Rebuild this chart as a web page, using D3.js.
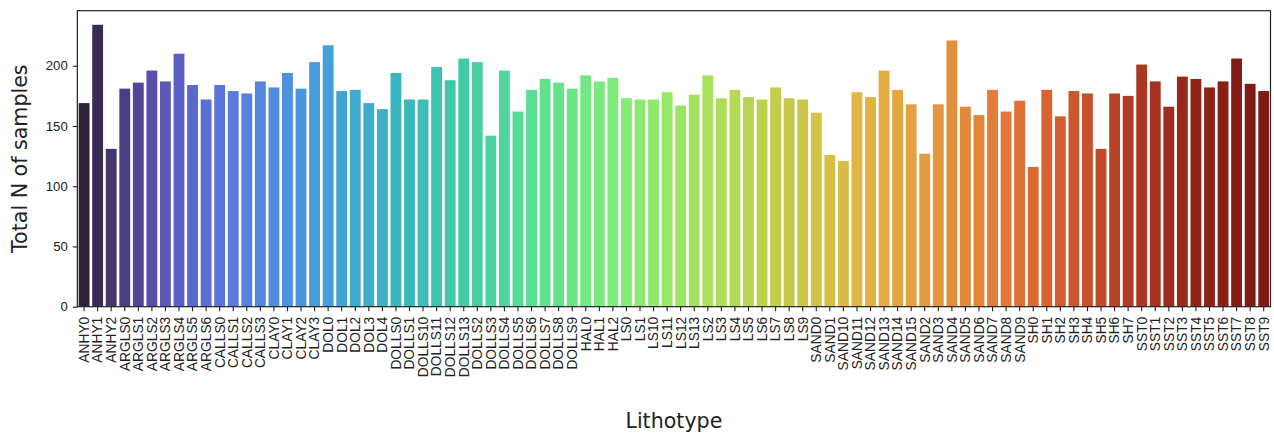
<!DOCTYPE html>
<html>
<head>
<meta charset="utf-8">
<script src="https://cdn.jsdelivr.net/npm/d3@7"></script>
<style>
  body { margin: 0; background: #fff; }
  svg { display: block; font-family: "DejaVu Sans", sans-serif; }
</style>
</head>
<body>
<script>
// Lithotype categories (in plot order)
const lithotypes = [
  "ANHY0","ANHY1","ANHY2",
  "ARGLS0","ARGLS1","ARGLS2","ARGLS3","ARGLS4","ARGLS5","ARGLS6",
  "CALLS0","CALLS1","CALLS2","CALLS3",
  "CLAY0","CLAY1","CLAY2","CLAY3",
  "DOL0","DOL1","DOL2","DOL3","DOL4",
  "DOLLS0","DOLLS1","DOLLS10","DOLLS11","DOLLS12","DOLLS13","DOLLS2","DOLLS3","DOLLS4","DOLLS5","DOLLS6","DOLLS7","DOLLS8","DOLLS9",
  "HAL0","HAL1","HAL2",
  "LS0","LS1","LS10","LS11","LS12","LS13","LS2","LS3","LS4","LS5","LS6","LS7","LS8","LS9",
  "SAND0","SAND1","SAND10","SAND11","SAND12","SAND13","SAND14","SAND15","SAND2","SAND3","SAND4","SAND5","SAND6","SAND7","SAND8","SAND9",
  "SH0","SH1","SH2","SH3","SH4","SH5","SH6","SH7",
  "SST0","SST1","SST2","SST3","SST4","SST5","SST6","SST7","SST8","SST9"
];

// Total N of samples per lithotype
const counts = [
  169, 234, 131,
  181, 186, 196, 187, 210, 184, 172,
  184, 179, 177, 187,
  182, 194, 181, 203,
  217, 179, 180, 169, 164,
  194, 172, 172, 199, 188, 206, 203, 142, 196, 162, 180, 189, 186, 181,
  192, 187, 190,
  173, 172, 172, 178, 167, 176, 192, 173, 180, 174, 172, 182, 173, 172,
  161, 126, 121, 178, 174, 196, 180, 168, 127, 168, 221, 166, 159, 180, 162, 171,
  116, 180, 158, 179, 177, 131, 177, 175,
  201, 187, 166, 191, 189, 182, 187, 206, 185, 179
];

const yTicks = [0, 50, 100, 150, 200];

const W = 1274, H = 434;
const margin = { top: 10.7, right: 3.5, bottom: 127.3, left: 77.3 };
const width = W - margin.left - margin.right;
const height = H - margin.top - margin.bottom;

const svg = d3.select("body").append("svg")
    .attr("width", W)
    .attr("height", H);

const g = svg.append("g")
    .attr("transform", "translate(" + margin.left + "," + margin.top + ")");

const x = d3.scaleBand()
    .domain(lithotypes)
    .range([0, width])
    .paddingInner(0.2)
    .paddingOuter(0.1);

const y = d3.scaleLinear()
    .domain([0, d3.max(counts) * 1.05])
    .range([height, 0]);

// seaborn-like turbo palette, desaturated to 0.75
const n = lithotypes.length;
const color = i => {
  const c = d3.hsl(d3.interpolateTurbo((i + 1) / (n + 1)));
  c.s *= 0.75;
  return c.formatHex();
};

g.selectAll(".bar")
  .data(lithotypes)
  .enter().append("rect")
    .attr("class", "bar")
    .attr("x", d => x(d))
    .attr("width", x.bandwidth())
    .attr("y", (d, i) => y(counts[i]))
    .attr("height", (d, i) => height - y(counts[i]))
    .attr("fill", (d, i) => color(i));

// Axes
const xAxis = g.append("g")
    .attr("transform", "translate(0," + height + ")")
    .call(d3.axisBottom(x).tickSize(4.5).tickPadding(4));
xAxis.select(".domain").remove();
xAxis.selectAll(".tick line").attr("stroke", "#222").attr("stroke-width", 1.1);
xAxis.selectAll(".tick text")
    .attr("font-size", 13.8)
    .attr("fill", "#222")
    .attr("transform", "rotate(-90)")
    .attr("text-anchor", "end")
    .attr("x", -10)
    .attr("y", 0)
    .attr("dy", "0.35em");

const yAxis = g.append("g")
    .call(d3.axisLeft(y).tickValues(yTicks).tickSize(4.5).tickPadding(5));
yAxis.select(".domain").remove();
yAxis.selectAll(".tick line").attr("stroke", "#222").attr("stroke-width", 1.1);
yAxis.selectAll(".tick text")
    .attr("font-size", 13.2)
    .attr("fill", "#222");

// Frame
g.append("rect")
    .attr("width", width)
    .attr("height", height)
    .attr("fill", "none")
    .attr("stroke", "#222")
    .attr("stroke-width", 1.2);

// Axis labels
svg.append("text")
    .attr("x", margin.left + width / 2)
    .attr("y", 428)
    .attr("text-anchor", "middle")
    .attr("font-size", 20.6)
    .attr("fill", "#222")
    .text("Lithotype");

svg.append("text")
    .attr("transform", "translate(27," + (margin.top + height / 2) + ") rotate(-90)")
    .attr("text-anchor", "middle")
    .attr("font-size", 20.6)
    .attr("fill", "#222")
    .text("Total N of samples");
</script>
</body>
</html>
